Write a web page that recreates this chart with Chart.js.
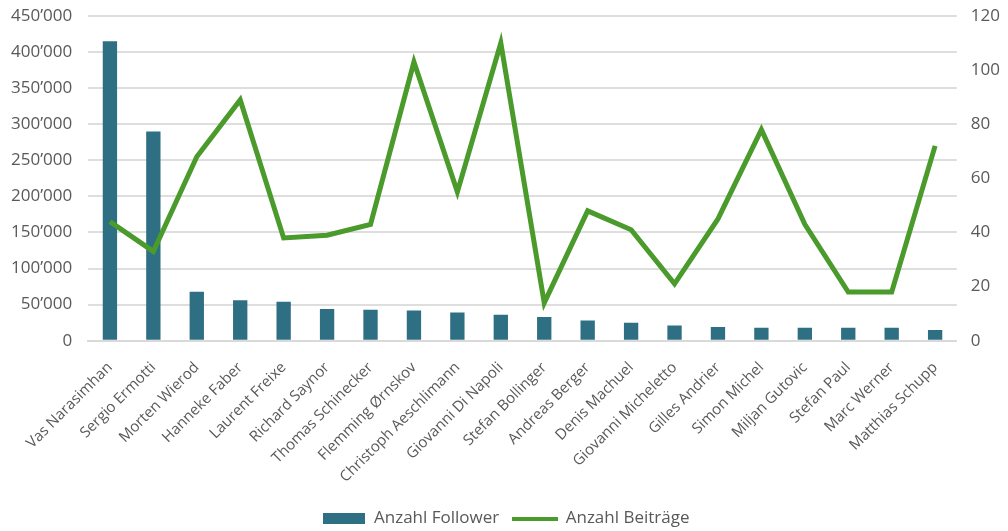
<!DOCTYPE html>
<html>
<head>
<meta charset="utf-8">
<script src="https://cdn.jsdelivr.net/npm/chart.js@4"></script>
<style>
    body { margin: 0; background: #fff; }
    #box { width: 1008px; height: 531px; }
</style>
</head>
<body>
<div id="box"><canvas id="grafico"></canvas></div>
<script>
    var nomes = ['Vas Narasimhan', 'Sergio Ermotti', 'Morten Wierod', 'Hanneke Faber', 'Laurent Freixe',
        'Richard Saynor', 'Thomas Schinecker', 'Flemming Ørnskov', 'Christoph Aeschlimann', 'Giovanni Di Napoli',
        'Stefan Bollinger', 'Andreas Berger', 'Denis Machuel', 'Giovanni Micheletto', 'Gilles Andrier',
        'Simon Michel', 'Miljan Gutovic', 'Stefan Paul', 'Marc Werner', 'Matthias Schupp'];
    var follower = [415000, 290000, 68000, 56000, 54000, 44000, 43000, 42000, 39000, 36000,
        33000, 28000, 25000, 21000, 19000, 18000, 18000, 18000, 18000, 15000];
    var beitraege = [44, 33, 68, 89, 38, 39, 43, 103, 55, 110, 14, 48, 41, 21, 45, 78, 43, 18, 18, 72];
    var ticksEsquerda = [0, 50000, 100000, 150000, 200000, 250000, 300000, 350000, 400000, 450000];
    var ticksDireita = [0, 20, 40, 60, 80, 100, 120];

    var azul = '#2e6f83';
    var verde = '#4a9a2c';
    var cinza = '#595959';

    function milhar(v) {
        return String(v).replace(/\B(?=(\d{3})+(?!\d))/g, '\u2019');
    }

    function icone(w, h, cor) {
        var c = document.createElement('canvas');
        c.width = w;
        c.height = h;
        var g = c.getContext('2d');
        g.fillStyle = cor;
        g.fillRect(0, 0, w, h);
        return c;
    }

    var iconeBarra = icone(42, 11, azul);
    var iconeLinha = icone(46, 4, verde);

    var config = {
        type: 'bar',
        data: {
            labels: nomes,
            datasets: [{
                label: 'Anzahl Follower',
                data: follower,
                backgroundColor: azul,
                yAxisID: 'y',
                barPercentage: 0.33,
                categoryPercentage: 1,
                order: 1
            }, {
                type: 'line',
                label: 'Anzahl Beiträge',
                data: beitraege,
                borderColor: verde,
                backgroundColor: verde,
                borderWidth: 5,
                pointRadius: 0,
                tension: 0,
                yAxisID: 'y1',
                order: 0
            }]
        },
        options: {
            responsive: true,
            maintainAspectRatio: false,
            animation: false,
            layout: { padding: { left: 9, right: 6, top: 16, bottom: -6 } },
            plugins: {
                tooltip: { enabled: false },
                legend: {
                    position: 'bottom',
                    labels: {
                        usePointStyle: true,
                        pointStyleWidth: 44,
                        color: cinza,
                        font: { family: 'Open Sans', size: 17 },
                        padding: 14,
                        sort: function (a, b) { return a.datasetIndex - b.datasetIndex; },
                        generateLabels: function (chart) {
                            var itens = Chart.defaults.plugins.legend.labels.generateLabels(chart);
                            itens.forEach(function (it) {
                                it.pointStyle = it.datasetIndex === 0 ? iconeBarra : iconeLinha;
                            });
                            return itens;
                        }
                    }
                }
            },
            scales: {
                x: {
                    grid: { display: false },
                    border: { color: '#d9d9d9', width: 2 },
                    ticks: {
                        color: cinza,
                        padding: 10,
                        minRotation: 45,
                        maxRotation: 45,
                        autoSkip: false,
                        font: { family: 'Open Sans', size: 15 }
                    }
                },
                y: {
                    position: 'left',
                    min: 0,
                    max: 450000,
                    afterBuildTicks: function (ax) {
                        ax.ticks = ticksEsquerda.map(function (v) { return { value: v }; });
                    },
                    grid: { color: '#dedede', lineWidth: 2, tickLength: 14, tickColor: 'rgba(0,0,0,0)' },
                    border: { display: false },
                    ticks: {
                        color: cinza,
                        padding: 2,
                        font: { family: 'Open Sans', size: 17 },
                        callback: function (v) { return milhar(v); }
                    }
                },
                y1: {
                    position: 'right',
                    min: 0,
                    max: 120,
                    afterBuildTicks: function (ax) {
                        ax.ticks = ticksDireita.map(function (v) { return { value: v }; });
                    },
                    grid: { drawOnChartArea: false, tickLength: 12, tickColor: 'rgba(0,0,0,0)' },
                    border: { display: false },
                    ticks: {
                        color: cinza,
                        padding: 2,
                        font: { family: 'Open Sans', size: 17 }
                    }
                }
            }
        }
    };

    var meuGrafico = new Chart(document.getElementById('grafico'), config);
</script>
</body>
</html>
